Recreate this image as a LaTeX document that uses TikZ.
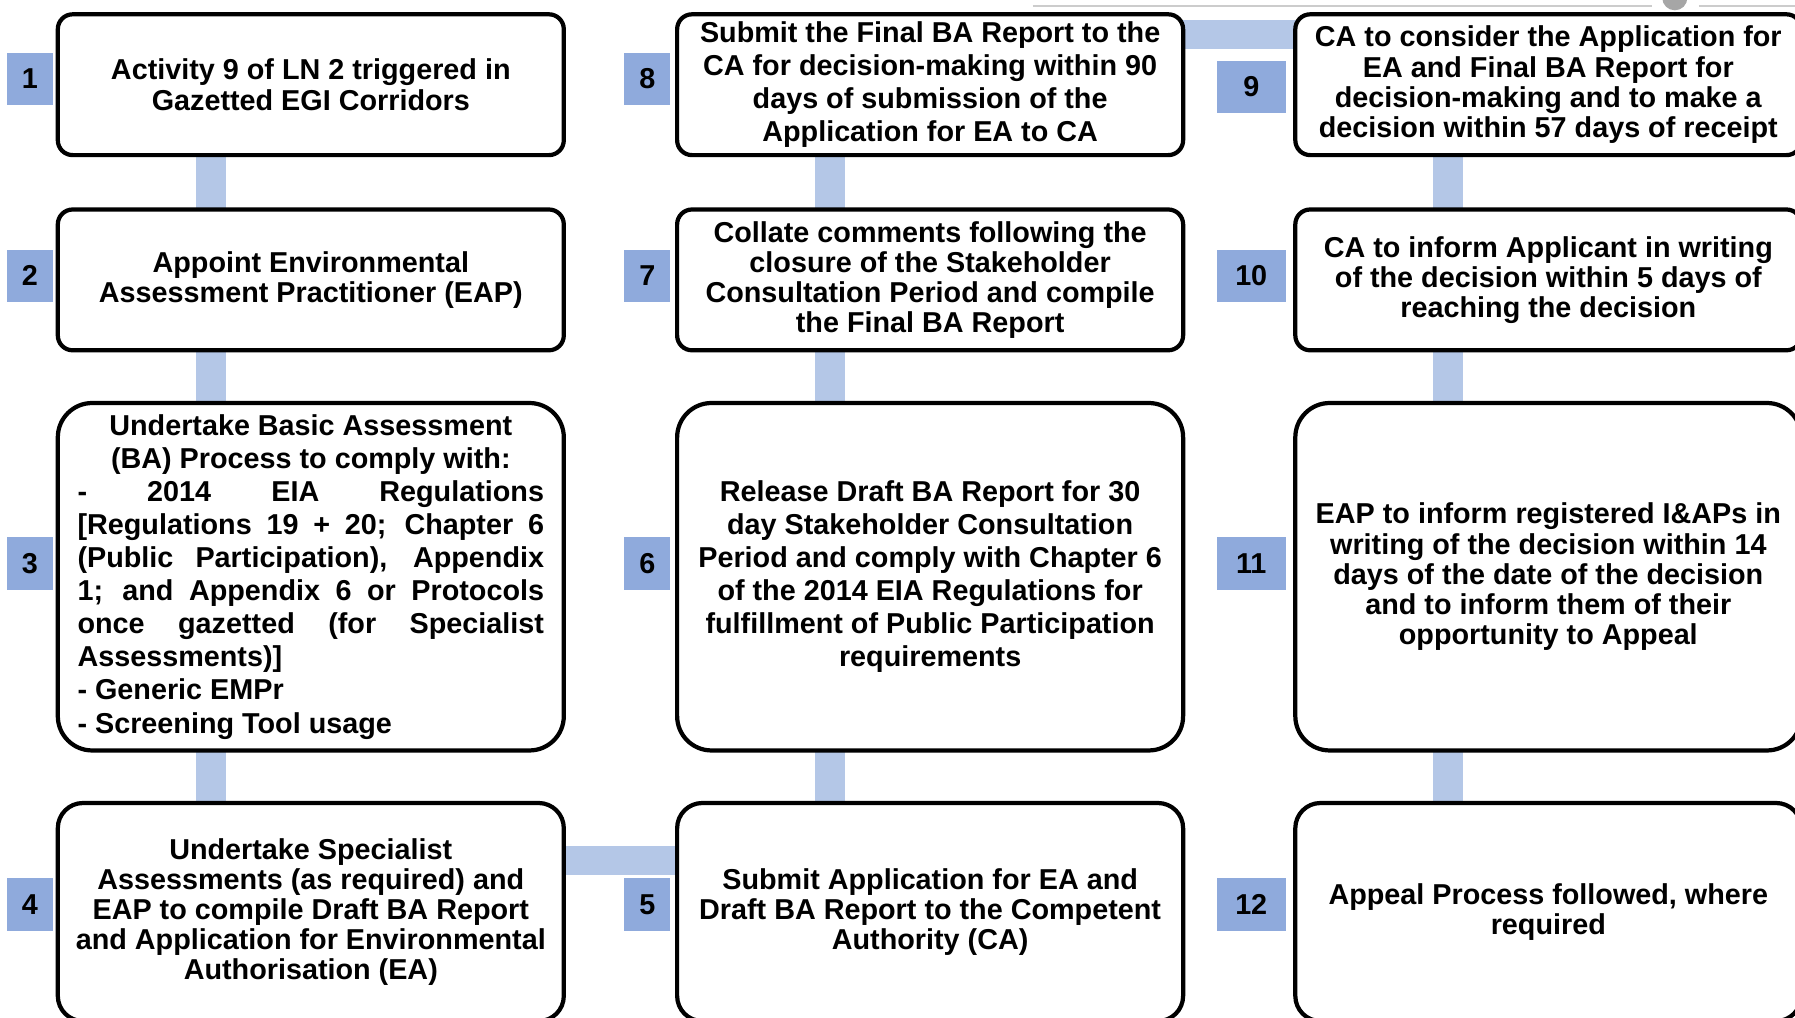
\documentclass[tikz,border=0pt]{standalone}
\usepackage{fontspec}
\setmainfont{Liberation Sans}
\usetikzlibrary{backgrounds}
\definecolor{numblue}{RGB}{143,170,220}
\definecolor{barblue}{RGB}{180,199,231}
% width of the justified lines in step 3
\newlength\reglen
\setlength\reglen{231.9pt}

\begin{document}
\begin{tikzpicture}[x=0.2mm, y=-0.2mm,
    stepbox/.style={draw, line width=2.1pt, fill=white, rounded corners=0.26cm,
        minimum width=8.84cm, minimum height=2.46cm, inner sep=0pt, align=center,
        font=\fontsize{14.3}{15}\selectfont\bfseries},
    tallbox/.style={stepbox, rounded corners=0.6cm, minimum height=6.07cm},
    lowbox/.style={stepbox, rounded corners=0.44cm, minimum height=3.81cm},
    wide/.style={font=\fontsize{14.3}{16.45}\selectfont\bfseries},
    numbox/.style={fill=numblue, minimum width=0.8cm, minimum height=0.92cm,
        inner sep=0pt, font=\fontsize{14.3}{15}\selectfont\bfseries},
    widenum/.style={numbox, minimum width=1.2cm},
    bar/.style={barblue, line width=0.52cm},
    topline/.style={gray!40, line width=1.1pt}]
    \useasboundingbox (0,0) rectangle (1568,889);
    \clip (0,0) rectangle (1568,889);

    % first column: steps 1 to 4
    \node[stepbox] (b1) at (271.5,74) {Activity 9 of LN 2 triggered in\\Gazetted EGI Corridors};
    \node[stepbox] (b2) at (271.5,244.5) {Appoint Environmental\\Assessment Practitioner (EAP)};
    \node[tallbox, wide] (b3) at (271.5,503.8) {Undertake Basic Assessment\\(BA) Process to comply with:\\
        \makebox[\reglen][s]{- 2014 EIA Regulations}\\
        \makebox[\reglen][s]{[Regulations 19 + 20; Chapter 6}\\
        \makebox[\reglen][s]{(Public Participation), Appendix}\\
        \makebox[\reglen][s]{1; and Appendix 6 or Protocols}\\
        \makebox[\reglen][s]{once gazetted (for Specialist}\\
        \makebox[\reglen][l]{Assessments)]}\\
        \makebox[\reglen][l]{- Generic EMPr}\\
        \makebox[\reglen][l]{- Screening Tool usage}};
    \node[lowbox] (b4) at (271.5,796.7) {Undertake Specialist\\Assessments (as required) and\\EAP to compile Draft BA Report\\and Application for Environmental\\Authorisation (EA)};

    % second column: steps 5 to 8, bottom up
    \node[lowbox] (b5) at (812.5,796.7) {Submit Application for EA and\\Draft BA Report to the Competent\\Authority (CA)};
    \node[tallbox, wide] (b6) at (812.5,503.8) {Release Draft BA Report for 30\\day Stakeholder Consultation\\Period and comply with Chapter 6\\of the 2014 EIA Regulations for\\fulfillment of Public Participation\\requirements};
    \node[stepbox] (b7) at (812.5,244.5) {Collate comments following the\\closure of the Stakeholder\\Consultation Period and compile\\the Final BA Report};
    \node[stepbox, wide] (b8) at (812.5,74) {Submit the Final BA Report to the\\CA for decision-making within 90\\days of submission of the\\Application for EA to CA};

    % third column: steps 9 to 12
    \node[stepbox] (b9) at (1352.5,74) {CA to consider the Application for\\EA and Final BA Report for\\decision-making and to make a\\decision within 57 days of receipt};
    \node[stepbox] (b10) at (1352.5,244.5) {CA to inform Applicant in writing\\of the decision within 5 days of\\reaching the decision};
    \node[tallbox] (b11) at (1352.5,503.8) {EAP to inform registered I\&APs in\\writing of the decision within 14\\days of the date of the decision\\and to inform them of their\\opportunity to Appeal};
    \node[lowbox] (b12) at (1352.5,796.7) {Appeal Process followed, where\\required};

    % step numbers
    \node[numbox] (n1) at (26,69) {1};
    \node[numbox] (n2) at (26,241) {2};
    \node[numbox] (n3) at (26,492) {3};
    \node[numbox] (n4) at (26,790) {4};
    \node[numbox] (n5) at (565.5,790) {5};
    \node[numbox] (n6) at (565.5,492) {6};
    \node[numbox] (n7) at (565.5,241) {7};
    \node[numbox] (n8) at (565.5,69) {8};
    \node[widenum] (n9) at (1093,76) {9};
    \node[widenum] (n10) at (1093,241) {10};
    \node[widenum] (n11) at (1093,492) {11};
    \node[widenum] (n12) at (1093,790) {12};

    % connecting bars behind the boxes
    \begin{scope}[on background layer]
        \foreach \a/\b in {b1/b2, b2/b3, b3/b4, b5/b6, b6/b7, b7/b8, b9/b10, b10/b11, b11/b12}
            \draw[bar] ([xshift=-1.75cm]\a.center) -- ([xshift=-1.75cm]\b.center);
        \draw[bar] ([yshift=0.9cm]b4.center) -- ([yshift=0.9cm]b5.center);
        \draw[bar] ([yshift=0.876cm]b8.center) -- ([yshift=0.876cm]b9.center);
    \end{scope}

    % slider line along the top edge
    \draw[topline] (902,5) -- (1443,5) (1484,5) -- (1568,5);
    \fill[gray!70] (1463,-2) circle[radius=0.22cm];
\end{tikzpicture}
\end{document}
